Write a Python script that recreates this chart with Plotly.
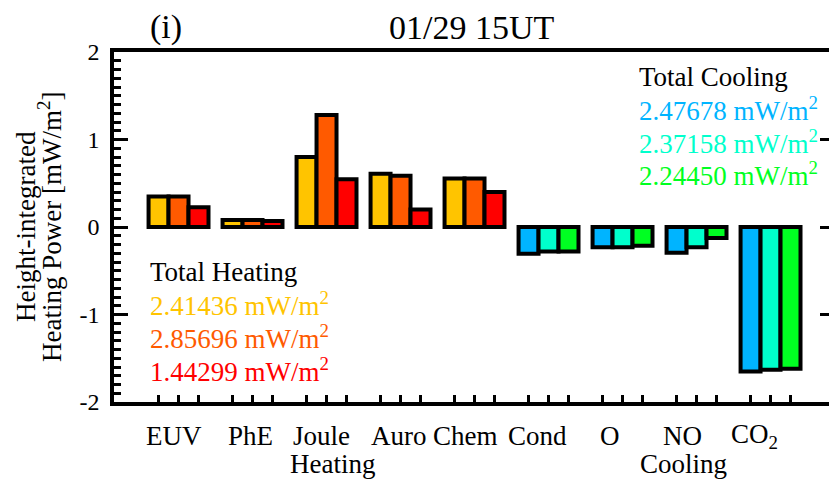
import plotly.graph_objects as go

# ---- data ----
categories = ["EUV", "PhE", "Joule", "Auro", "Chem", "Cond", "O", "NO", "CO2"]
x_labels = ["EUV", "PhE", "Joule", "Auro", "Chem", "Cond", "O", "NO", "CO<sub>2</sub>"]
run1 = [0.35, 0.08, 0.80, 0.61, 0.555, -0.305, -0.23, -0.295, -1.65]
run2 = [0.35, 0.08, 1.28, 0.585, 0.555, -0.28, -0.23, -0.23, -1.63]
run3 = [0.225, 0.07, 0.545, 0.20, 0.40, -0.28, -0.215, -0.125, -1.62]
heat_colors = ["#FFC400", "#FF5A00", "#FF0000"]
cool_colors = ["#00B4FF", "#00FFCC", "#00FF22"]
n_heat = 5
heat_totals = ["2.41436", "2.85696", "1.44299"]
cool_totals = ["2.47678", "2.37158", "2.24450"]
y_ticks = [-2, -1, 0, 1, 2]
y_ticktext = ["-2", "-1", "0", "1", "2"]
right_ticks = [-1, 0, 1]

# ---- layout geometry (pixels) ----
FW, FH = 829, 479
L, T, W, H = 114, 52, 715, 350
FONT = "Liberation Serif, Times New Roman, serif"


def px(x):
    return (x - L) / W


def py(y):
    return (T + H - y) / H


bargap = 0.19
bw = (1 - bargap) / 3
xs = list(range(len(categories)))

fig = go.Figure()
for k, vals in enumerate([run1, run2, run3]):
    colors = [heat_colors[k] if i < n_heat else cool_colors[k] for i in xs]
    fig.add_trace(go.Bar(
        x=xs, y=vals, marker=dict(color=colors, line=dict(color="black", width=4)),
        showlegend=False, hoverinfo="skip", offsetgroup=str(k)))

# invisible trace to carry the right-hand axis ticks
fig.add_trace(go.Scatter(x=xs, y=run1, yaxis="y2", mode="markers",
                         marker=dict(opacity=0), showlegend=False, hoverinfo="skip"))

tickvals_x = [i + d for i in xs for d in (-bw, 0, bw)]

fig.update_layout(
    width=FW, height=FH,
    margin=dict(l=L, r=FW - L - W, t=T, b=FH - T - H),
    paper_bgcolor="white", plot_bgcolor="white",
    barmode="group", bargap=bargap, bargroupgap=0,
    font=dict(family=FONT, color="black"),
    xaxis=dict(range=[-0.872, 8.79], tickmode="array", tickvals=tickvals_x,
               showticklabels=False, ticks="inside", ticklen=7, tickwidth=3,
               tickcolor="black", showline=True, linewidth=3.5, linecolor="black",
               mirror=True, showgrid=False, zeroline=False),
    yaxis=dict(range=[-2, 2], tickmode="array", tickvals=y_ticks, ticktext=y_ticktext,
               ticks="inside", ticklen=14, tickwidth=3, tickcolor="black",
               minor=dict(tickmode="linear", tick0=0, dtick=0.1, ticks="inside",
                          ticklen=7, tickwidth=3, tickcolor="black"),
               tickfont=dict(size=24, family=FONT, color="black"),
               showline=True, linewidth=3.5, linecolor="black",
               showgrid=False, zeroline=False, ticklabelstandoff=6),
    yaxis2=dict(range=[-2, 2], overlaying="y", side="right", tickmode="array",
                tickvals=right_ticks, ticks="inside", ticklen=9, tickwidth=3,
                tickcolor="black", showticklabels=False, showline=False,
                showgrid=False, zeroline=False),
)

ann = []
# titles
ann.append(dict(text="(i)", x=px(148), y=py(27), xref="paper", yref="paper",
                xanchor="left", yanchor="middle", showarrow=False,
                font=dict(size=34, family=FONT, color="black")))
ann.append(dict(text="01/29 15UT", x=px(472), y=py(27), xref="paper", yref="paper",
                xanchor="center", yanchor="middle", showarrow=False,
                font=dict(size=34, family=FONT, color="black")))
# y-axis title (two rotated lines)
ann.append(dict(text="Height-integrated", x=px(26), y=py(227), xref="paper", yref="paper",
                xanchor="center", yanchor="middle", textangle=-90, showarrow=False,
                font=dict(size=27, family=FONT, color="black")))
ann.append(dict(text="Heating Power [mW/m<sup>2</sup>]", x=px(50), y=py(227),
                xref="paper", yref="paper", xanchor="center", yanchor="middle",
                textangle=-90, showarrow=False,
                font=dict(size=27, family=FONT, color="black")))
# category labels
label_shift = [-0.068, -0.034, -0.074, -0.02, -0.128, -0.155, -0.169, -0.196, -0.223]
for i, lab in enumerate(x_labels):
    ann.append(dict(text=lab, x=i + label_shift[i], y=py(436), xref="x", yref="paper",
                    xanchor="center", yanchor="middle", showarrow=False,
                    font=dict(size=27, family=FONT, color="black")))
ann.append(dict(text="Heating", x=2 + 0.074, y=py(464), xref="x", yref="paper",
                xanchor="center", yanchor="middle", showarrow=False,
                font=dict(size=27, family=FONT, color="black")))
ann.append(dict(text="Cooling", x=7 - 0.18, y=py(464), xref="x", yref="paper",
                xanchor="center", yanchor="middle", showarrow=False,
                font=dict(size=27, family=FONT, color="black")))
# totals
ann.append(dict(text="Total Heating", x=px(148), y=py(272), xref="paper", yref="paper",
                xanchor="left", yanchor="middle", showarrow=False,
                font=dict(size=27, family=FONT, color="black")))
for k, (val, col) in enumerate(zip(heat_totals, heat_colors)):
    ann.append(dict(text=f"{val} mW/m<sup>2</sup>", x=px(148), y=py(304 + 33 * k),
                    xref="paper", yref="paper", xanchor="left", yanchor="middle",
                    showarrow=False, font=dict(size=27, family=FONT, color=col)))
ann.append(dict(text="Total Cooling", x=px(637), y=py(77), xref="paper", yref="paper",
                xanchor="left", yanchor="middle", showarrow=False,
                font=dict(size=27, family=FONT, color="black")))
for k, (val, col) in enumerate(zip(cool_totals, cool_colors)):
    ann.append(dict(text=f"{val} mW/m<sup>2</sup>", x=px(637), y=py(109 + 32.5 * k),
                    xref="paper", yref="paper", xanchor="left", yanchor="middle",
                    showarrow=False, font=dict(size=27, family=FONT, color=col)))

fig.update_layout(annotations=ann)
fig.write_html("out.html",
               config={"displayModeBar": False},
               post_script="document.body.style.margin='0px';document.body.style.overflow='hidden';")
